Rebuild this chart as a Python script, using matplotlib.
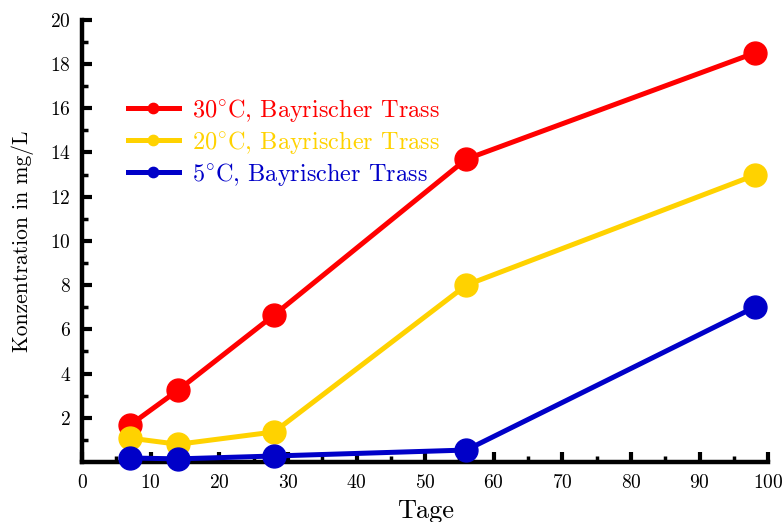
import matplotlib
matplotlib.use("Agg")
from matplotlib import pyplot as plt
import numpy as np

# Daten
# ========================================
tage = [7, 14, 28, 56, 98]
konz_30 = [1.67, 3.25, 6.65, 13.7, 18.5]
konz_20 = [1.08, 0.8, 1.36, 8.0, 12.97]
konz_5 = [0.18, 0.14, 0.27, 0.54, 7.0]

labels = [r"30$^{\circ}$C, Bayrischer Trass",
          r"20$^{\circ}$C, Bayrischer Trass",
          r"5$^{\circ}$C, Bayrischer Trass"]
colors = ["#ff0000", "#ffd200", "#0000c8"]

x_ticks = np.arange(0, 101, 10)
y_ticks = np.arange(2, 21, 2)

# Estilo
# ========================================
plt.rcParams["font.family"] = "serif"
plt.rcParams["font.serif"] = ["cmr10", "DejaVu Serif"]
plt.rcParams["mathtext.fontset"] = "cm"
plt.rcParams["axes.formatter.use_mathtext"] = True

fig = plt.figure(figsize=(7.84, 5.22), dpi=100)
ax = fig.add_axes([0.1046, 0.115, 0.8754, 0.847])

for serie, color, label in zip([konz_30, konz_20, konz_5], colors, labels):
    ax.plot(tage, serie, "-o", color=color, lw=3.6, ms=16.5, label=label,
            clip_on=False, zorder=3)

ax.set_xlim(0, 100)
ax.set_ylim(0, 20)
ax.set_xticks(x_ticks)
ax.set_yticks(y_ticks)
ax.set_xticks(np.arange(5, 100, 10), minor=True)
ax.set_yticks(np.arange(1, 20, 2), minor=True)
ax.tick_params(which="major", direction="in", length=7, width=3, labelsize=14)
ax.tick_params(which="minor", direction="in", length=4, width=2.5)
ax.tick_params(axis="x", pad=9)
ax.tick_params(axis="y", pad=8)

for side in ["top", "right"]:
    ax.spines[side].set_visible(False)
for side in ["left", "bottom"]:
    ax.spines[side].set_linewidth(3.2)
    ax.spines[side].set_zorder(2)

ax.set_xlabel("Tage", fontsize=19)
ax.set_ylabel("Konzentration in mg/L", fontsize=15.5)
ax.xaxis.set_label_coords(0.5, -0.085)
ax.yaxis.set_label_coords(-0.07, 0.5)

leg = ax.legend(loc="upper left", bbox_to_anchor=(0.035, 0.875), frameon=False,
                fontsize=17.5, handlelength=2.1, markerscale=0.45,
                labelspacing=0.2, handletextpad=0.55)
for text, color in zip(leg.get_texts(), colors):
    text.set_color(color)

fig.savefig("out.png", dpi=100)
